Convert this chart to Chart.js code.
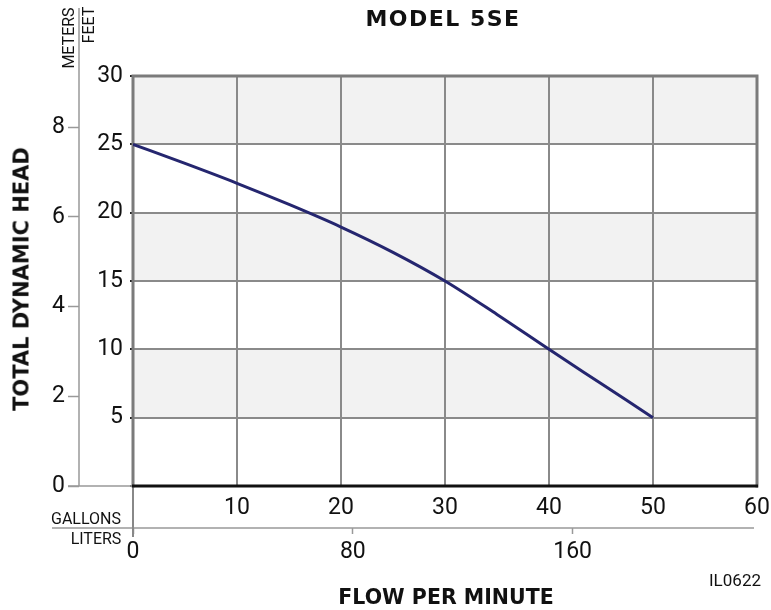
<!DOCTYPE html>
<html>
<head>
<meta charset="utf-8">
<script src="https://cdn.jsdelivr.net/npm/chart.js@4.4.1/dist/chart.umd.min.js"></script>
<style>
  body { margin: 0; background: #fff; }
  #wrap { position: relative; width: 771px; height: 610px; font-family: Roboto, sans-serif; color: #111; }
  canvas { position: absolute; left: 0; top: 0; }
  .lbl { position: absolute; white-space: nowrap; line-height: 1; transform: translate(-50%, -50%); }
  .rot { transform: translate(-50%, -50%) rotate(-90deg); }
  .bold { font-family: "DejaVu Sans", sans-serif; font-weight: bold; }
</style>
</head>
<body>
<div id="wrap">
  <canvas id="chart" width="771" height="610"></canvas>
  <div class="lbl bold" style="left:443px;top:19px;font-size:22px;letter-spacing:1.5px;">MODEL 5SE</div>
  <div class="lbl bold" style="left:446px;top:597px;font-size:20.5px;">FLOW PER MINUTE</div>
  <div class="lbl bold rot" style="left:22px;top:279px;font-size:21px;">TOTAL DYNAMIC HEAD</div>
  <div class="lbl rot" style="left:69px;top:38px;font-size:16px;">METERS</div>
  <div class="lbl rot" style="left:89px;top:25px;font-size:16px;">FEET</div>
  <div class="lbl" style="left:86px;top:519px;font-size:16px;">GALLONS</div>
  <div class="lbl" style="left:96px;top:539px;font-size:16px;">LITERS</div>
  <div class="lbl" style="left:735px;top:580px;font-size:17px;">IL0622</div>
</div>
<script>
// pump curve: flow in gallons/min, head in feet
const gallons = [0, 5, 10, 15, 20, 25, 30, 35, 40, 45, 50];
const headFeet = [25, 23.6, 22.15, 20.6, 18.95, 17.1, 15.0, 12.55, 10.0, 7.5, 5.0];

const feetTicks = [0, 5, 10, 15, 20, 25, 30];
const meterTicks = [0, 2, 4, 6, 8];
const gallonTicks = [0, 10, 20, 30, 40, 50, 60];
const literTicks = [0, 80, 160];

const FT_PER_M = 3.28084;
const L_PER_GAL = 3.785;
const tickFont = { family: 'Roboto', size: 23 };

// alternating grey bands behind the grid
const bands = {
  id: 'bands',
  beforeDraw(chart) {
    const { ctx, chartArea: a, scales: { y } } = chart;
    ctx.save();
    ctx.fillStyle = '#fff';
    ctx.fillRect(a.left, a.top, a.right - a.left, a.bottom - a.top);
    ctx.fillStyle = '#f2f2f2';
    for (let i = feetTicks.length - 1; i > 0; i -= 2) {
      const top = y.getPixelForValue(feetTicks[i]);
      const bot = y.getPixelForValue(feetTicks[i - 1]);
      ctx.fillRect(a.left, top, a.right - a.left, bot - top);
    }
    ctx.restore();
  }
};

// frame round the plot and the extra axis rules
const frame = {
  id: 'frame',
  beforeDatasetsDraw(chart) {
    const { ctx, chartArea: a, scales: { yM, xL } } = chart;
    ctx.save();
    ctx.lineCap = 'square';
    ctx.strokeStyle = '#7b7b7b';
    ctx.lineWidth = 3;
    ctx.beginPath();
    ctx.moveTo(a.left, a.bottom);
    ctx.lineTo(a.left, a.top);
    ctx.lineTo(a.right, a.top);
    ctx.lineTo(a.right, a.bottom);
    ctx.stroke();

    ctx.strokeStyle = '#999';
    ctx.lineWidth = 1.5;
    ctx.lineCap = 'butt';
    ctx.beginPath();
    // meters axis rule
    ctx.moveTo(yM.right, 8);
    ctx.lineTo(yM.right, a.bottom);
    // meters zero reaches the plot
    ctx.moveTo(yM.right - 11, a.bottom);
    ctx.lineTo(a.left, a.bottom);
    // liters rule
    ctx.moveTo(52, xL.top);
    ctx.lineTo(a.right - 3, xL.top);
    ctx.stroke();

    ctx.strokeStyle = '#888';
    ctx.lineWidth = 2;
    ctx.beginPath();
    ctx.moveTo(a.left, a.bottom);
    ctx.lineTo(a.left, xL.top + 9);
    ctx.stroke();

    ctx.strokeStyle = '#111';
    ctx.lineWidth = 3;
    ctx.beginPath();
    ctx.moveTo(a.left - 1, a.bottom);
    ctx.lineTo(a.right + 1, a.bottom);
    ctx.stroke();
    ctx.restore();
  }
};

new Chart(document.getElementById('chart'), {
  type: 'line',
  data: {
    datasets: [{
      data: gallons.map((g, i) => ({ x: g, y: headFeet[i] })),
      borderColor: '#25266f',
      borderWidth: 3,
      pointRadius: 0,
      cubicInterpolationMode: 'monotone',
      fill: false
    }]
  },
  options: {
    responsive: false,
    animation: false,
    layout: { padding: { top: 76, right: 14, left: 0, bottom: 0 } },
    plugins: { legend: { display: false }, tooltip: { enabled: false } },
    scales: {
      x: {
        type: 'linear',
        position: 'bottom',
        weight: 0,
        min: 0,
        max: 60,
        afterBuildTicks: s => { s.ticks = gallonTicks.map(v => ({ value: v })); },
        afterFit: s => { s.height = 42; },
        ticks: {
          autoSkip: false,
          maxRotation: 0,
          padding: 0,
          color: '#111',
          font: tickFont,
          callback: v => v === 0 ? '' : v
        },
        grid: { color: '#8a8a8a', lineWidth: 2, tickLength: 8, tickColor: 'rgba(0,0,0,0)' },
        border: { display: false }
      },
      xL: {
        type: 'linear',
        position: 'bottom',
        weight: 1,
        min: 0,
        max: 60 * L_PER_GAL,
        afterBuildTicks: s => { s.ticks = literTicks.map(v => ({ value: v })); },
        afterFit: s => { s.height = 82; },
        ticks: { autoSkip: false, maxRotation: 0, padding: 4, color: '#111', font: tickFont },
        grid: { drawOnChartArea: false, tickLength: 6, tickColor: '#999', tickWidth: 1.5 },
        border: { display: false }
      },
      y: {
        type: 'linear',
        position: 'left',
        weight: 0,
        min: 0,
        max: 30,
        afterBuildTicks: s => { s.ticks = feetTicks.map(v => ({ value: v })); },
        afterFit: s => { s.width = 54; },
        ticks: {
          padding: 7,
          color: '#111',
          font: tickFont,
          callback: v => v === 0 ? '' : v
        },
        grid: { color: '#8a8a8a', lineWidth: 2, tickLength: 3, tickColor: '#222', tickWidth: 2 },
        border: { display: false }
      },
      yM: {
        type: 'linear',
        position: 'left',
        weight: 1,
        min: 0,
        max: 30 / FT_PER_M,
        afterBuildTicks: s => { s.ticks = meterTicks.map(v => ({ value: v })); },
        afterFit: s => { s.width = 79; },
        ticks: { padding: 3, color: '#111', font: tickFont },
        grid: { drawOnChartArea: false, tickLength: 11, tickColor: '#999', tickWidth: 1.5 },
        border: { display: false }
      }
    }
  },
  plugins: [bands, frame]
});
</script>
</body>
</html>
